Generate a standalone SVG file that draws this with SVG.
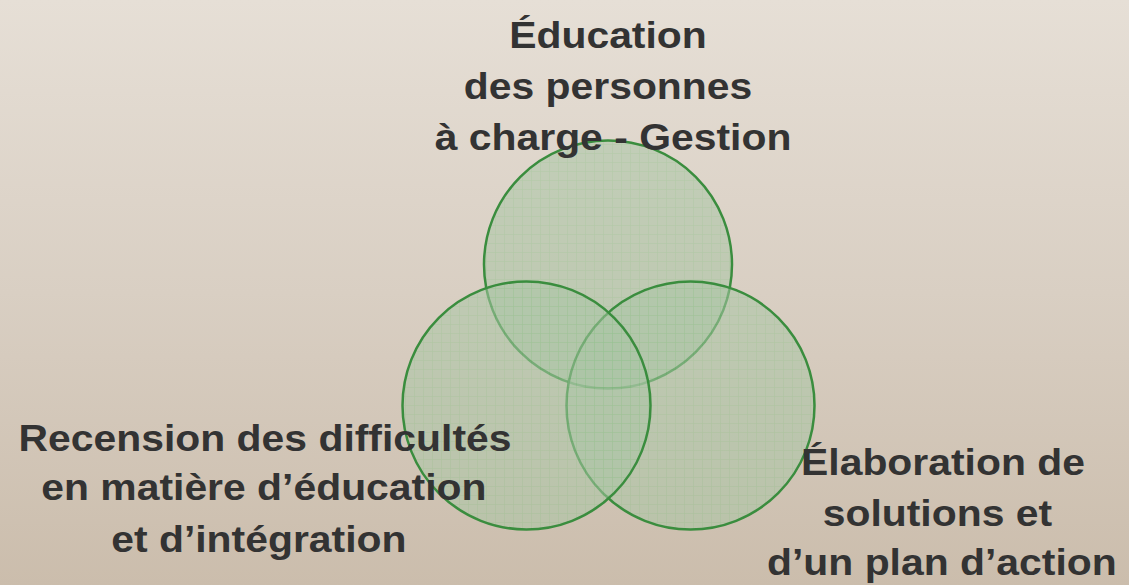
<svg xmlns="http://www.w3.org/2000/svg" width="1129" height="585" viewBox="0 0 1129 585">
  <defs>
    <linearGradient id="bg" x1="0" y1="0" x2="0" y2="1">
      <stop offset="0" stop-color="#e6dfd6"/>
      <stop offset="0.5" stop-color="#d9cfc3"/>
      <stop offset="1" stop-color="#cbbdac"/>
    </linearGradient>
    <pattern id="grid" width="9" height="9" patternUnits="userSpaceOnUse">
      <rect width="9" height="9" fill="#a9c5a5"/>
      <path d="M0 0.5H9M0.5 0V9" stroke="#8fbf8c" stroke-width="1" stroke-opacity="0.6"/>
    </pattern>
    <style>
      .venn { fill: url(#grid); fill-opacity: 0.55; stroke: #3a8d3e; stroke-width: 2.5; }
      .lbl { font-family: "Liberation Sans", Arial, sans-serif; font-weight: bold; font-size: 36.5px; fill: #333333; text-anchor: middle; }
    </style>
  </defs>
  <rect width="1129" height="585" fill="url(#bg)"/>
  <g id="node-education">
    <circle class="venn" cx="608" cy="264.5" r="124"/>
  </g>
  <g id="node-elaboration">
    <circle class="venn" cx="690.5" cy="405.5" r="124"/>
  </g>
  <g id="node-recension">
    <circle class="venn" cx="526.5" cy="405.5" r="124"/>
  </g>
  <g id="labels">
    <g id="label-education" transform="translate(608 0) scale(1.12 1)">
      <text class="lbl" x="0" y="48">Éducation</text>
      <text class="lbl" x="0" y="99">des personnes</text>
      <text class="lbl" x="4.5" y="150">à charge - Gestion</text>
    </g>
    <g id="label-recension" transform="translate(265 0) scale(1.12 1)">
      <text class="lbl" x="0" y="451">Recension des difficultés</text>
      <text class="lbl" x="-1" y="500">en matière d’éducation</text>
      <text class="lbl" x="-5.5" y="552">et d’intégration</text>
    </g>
    <g id="label-elaboration" transform="translate(943 0) scale(1.12 1)">
      <text class="lbl" x="0" y="475">Élaboration de</text>
      <text class="lbl" x="-5" y="526">solutions et</text>
      <text class="lbl" x="-1" y="575">d’un plan d’action</text>
    </g>
  </g>
</svg>
